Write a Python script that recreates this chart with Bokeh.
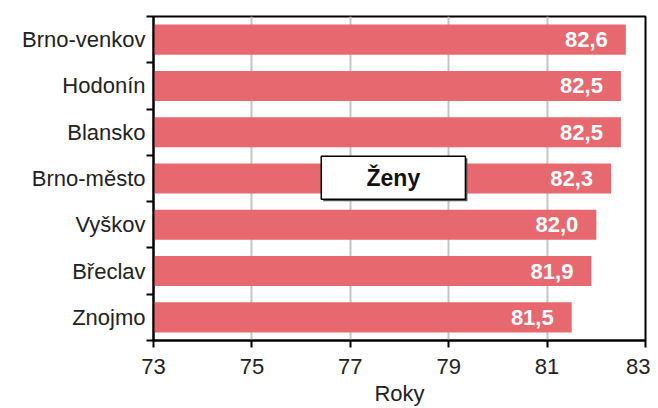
from bokeh.plotting import figure
from bokeh.models import (ColumnDataSource, FixedTicker, CustomJSTickFormatter,
                          Range1d, BoxAnnotation, Label)
from bokeh.core.properties import value
from bokeh.embed import file_html
from bokeh.resources import INLINE

districts = ["Brno-venkov", "Hodonín", "Blansko", "Brno-město", "Vyškov", "Břeclav", "Znojmo"]
years = [82.6, 82.5, 82.5, 82.3, 82.0, 81.9, 81.5]
x_ticks = [73, 75, 77, 79, 81, 83]
series_name = "Ženy"
axis_title = "Roky"

n = len(districts)
ypos = [n - i - 0.5 for i in range(n)]
labels = [f"{v:.1f}".replace(".", ",") for v in years]

src = ColumnDataSource(dict(y=ypos, v=years, lab=labels, left=[x_ticks[0]] * n))

FONT = "Liberation Sans"

p = figure(width=650, height=408, output_backend="svg", toolbar_location=None,
           x_range=Range1d(x_ticks[0], x_ticks[-1]), y_range=Range1d(0, n),
           min_border_left=153, min_border_right=5, min_border_top=16, min_border_bottom=68)

p.hbar(y="y", left="left", right="v", height=0.65, source=src,
       fill_color="#E8686F", line_color=None)

p.text(x="v", y="y", text="lab", source=src, x_offset=-18,
       text_align="right", text_baseline="middle", text_color="white",
       text_font=value(FONT), text_font_style="bold", text_font_size="22px")

# grid
p.ygrid.visible = False
p.xgrid.ticker = FixedTicker(ticks=x_ticks[1:-1])
p.xgrid.grid_line_color = "#C4C4C4"
p.xgrid.grid_line_width = 2

# x axis
p.xaxis.ticker = FixedTicker(ticks=x_ticks)
p.xaxis.axis_label = axis_title
p.xaxis.axis_label_text_font = FONT
p.xaxis.axis_label_text_font_style = "normal"
p.xaxis.axis_label_text_font_size = "22px"
p.xaxis.axis_label_text_color = "#222222"
p.xaxis.axis_label_standoff = 4
p.xaxis.major_label_text_font = FONT
p.xaxis.major_label_text_font_size = "22px"
p.xaxis.major_label_text_color = "#222222"
p.xaxis.major_label_standoff = 11
p.xaxis.major_tick_out = 7
p.xaxis.major_tick_in = 0
p.xaxis.minor_tick_line_color = None
p.xaxis.axis_line_width = 2
p.xaxis.major_tick_line_width = 2

# y axis: labels at centers, ticks at boundaries
p.yaxis.ticker = FixedTicker(ticks=ypos, minor_ticks=list(range(n + 1)))
p.yaxis.formatter = CustomJSTickFormatter(args=dict(names=districts[::-1]),
                                          code="return names[Math.floor(tick)];")
p.yaxis.major_tick_line_color = None
p.yaxis.major_tick_out = 0
p.yaxis.major_tick_in = 0
p.yaxis.minor_tick_out = 7
p.yaxis.minor_tick_in = 0
p.yaxis.minor_tick_line_color = "black"
p.yaxis.minor_tick_line_width = 2
p.yaxis.axis_line_width = 2
p.yaxis.major_label_text_font = FONT
p.yaxis.major_label_text_font_size = "22px"
p.yaxis.major_label_text_color = "#222222"
p.yaxis.major_label_standoff = 1

p.outline_line_color = "black"
p.outline_line_width = 2
p.outline_line_alpha = 1

# legend-like box with a small shadow
shadow = BoxAnnotation(left=76.45, right=79.38, bottom=3.01, top=3.94,
                       fill_color="#555555", fill_alpha=1, line_color=None)
p.add_layout(shadow)
box = BoxAnnotation(left=76.41, right=79.34, bottom=3.05, top=3.98,
                    fill_color="white", fill_alpha=1, line_color="black",
                    line_alpha=1, line_width=1.5)
p.add_layout(box)
p.add_layout(Label(x=77.875, y=3.51, text=series_name, text_align="center",
                   text_baseline="middle", text_font=FONT, text_font_style="bold",
                   text_font_size="23px", text_color="#111111"))

open("out.html", "w").write(file_html(p, INLINE))
